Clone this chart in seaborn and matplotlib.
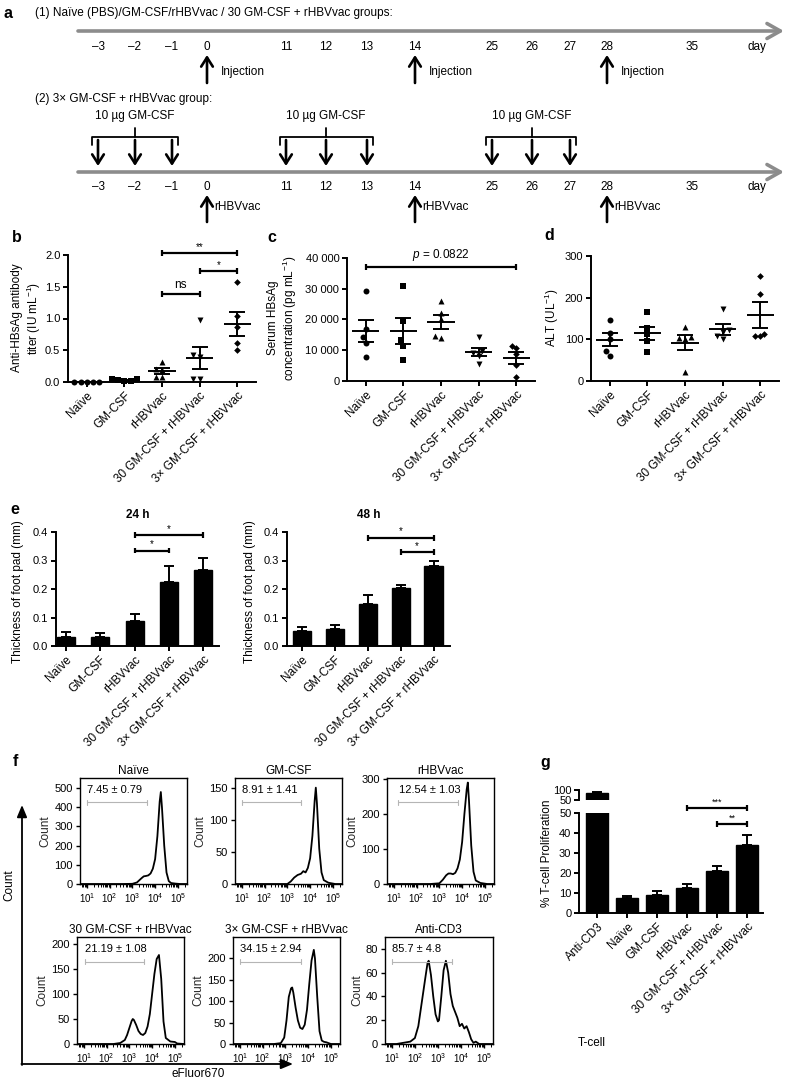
import numpy as np
import pandas as pd
import matplotlib
matplotlib.use('Agg')
import matplotlib.pyplot as plt
from matplotlib.transforms import blended_transform_factory
from matplotlib.ticker import LogLocator, NullFormatter
import seaborn as sns

# ======================= DATA =======================
groups = ['Naïve', 'GM-CSF', 'rHBVvac', '30 GM-CSF + rHBVvac', '3× GM-CSF + rHBVvac']

# (a) schedule
schedule_days = [-3, -2, -1, 0, 11, 12, 13, 14, 25, 26, 27, 28, 35]
injection_days = [0, 14, 28]
gmcsf_blocks = [[-3, -2, -1], [11, 12, 13], [25, 26, 27]]

# (b) anti-HBsAg antibody titer (IU/mL)
titer_naive = [0.0, 0.0, 0.0, 0.0, 0.0]
titer_gmcsf = [0.05, 0.04, 0.03, 0.01, 0.02]
titer_rhbv = [0.32, 0.20, 0.19, 0.08, 0.08]
titer_30gm = [0.97, 0.42, 0.40, 0.05, 0.05]
titer_3x = [1.57, 1.04, 0.87, 0.62, 0.50]

# (c) serum HBsAg (pg/mL)
hbsag_naive = [29300, 16800, 14300, 12500, 7900]
hbsag_gmcsf = [30800, 19500, 13200, 11400, 6700]
hbsag_rhbv = [26000, 22000, 20000, 14500, 14000]
hbsag_30gm = [14200, 9800, 9200, 8200, 5500]
hbsag_3x = [11300, 10800, 8700, 5200, 1300]

# (d) ALT (U/L)
alt_naive = [147, 115, 100, 72, 60]
alt_gmcsf = [165, 128, 112, 97, 70]
alt_rhbv = [130, 106, 104, 100, 22]
alt_30gm = [174, 122, 118, 108, 100]
alt_3x = [253, 209, 113, 107, 107]

# (e) foot pad thickness (mm)
pad24_mean = [0.030, 0.030, 0.088, 0.225, 0.265]
pad24_err = [0.018, 0.015, 0.025, 0.055, 0.045]
pad48_mean = [0.052, 0.058, 0.148, 0.203, 0.280]
pad48_err = [0.015, 0.015, 0.030, 0.012, 0.020]

# (f) eFluor670 histograms (log10 intensity, count)
f_titles = ['Naïve', 'GM-CSF', 'rHBVvac', '30 GM-CSF + rHBVvac', '3× GM-CSF + rHBVvac', 'Anti-CD3']
f_gate_text = ['7.45 ± 0.79', '8.91 ± 1.41', '12.54 ± 1.03', '21.19 ± 1.08', '34.15 ± 2.94', '85.7 ± 4.8']
f_gate_log = [(1.0, 3.65), (1.0, 3.6), (1.2, 3.8), (1.05, 3.65), (1.0, 3.7), (1.0, 3.6)]
f_yticks = [[0, 100, 200, 300, 400, 500], [0, 50, 100, 150], [0, 100, 200, 300],
            [0, 50, 100, 150, 200], [0, 50, 100, 150, 200], [0, 20, 40, 60, 80]]
f_ytop = [553, 165, 303, 214, 250, 90]

naive_logx = [0.7, 2.6, 3.0, 3.2, 3.4, 3.5, 3.6, 3.7, 3.8, 3.9, 4.0, 4.1, 4.2, 4.25, 4.3, 4.4, 4.5, 4.6, 4.7, 4.9, 5.1, 5.4]
naive_count = [0, 0, 1, 8, 30, 40, 42, 45, 55, 80, 130, 250, 430, 480, 400, 200, 60, 15, 5, 2, 0, 0]
gm_logx = [0.7, 2.6, 3.0, 3.15, 3.3, 3.45, 3.6, 3.7, 3.8, 3.9, 4.0, 4.1, 4.2, 4.25, 4.3, 4.4, 4.5, 4.6, 4.8, 5.1, 5.4]
gm_count = [0, 0, 0, 4, 10, 14, 16, 20, 18, 25, 40, 75, 130, 150, 125, 55, 18, 6, 2, 0, 0]
rh_logx = [0.7, 2.6, 3.0, 3.15, 3.3, 3.4, 3.5, 3.6, 3.7, 3.8, 3.9, 4.0, 4.1, 4.2, 4.25, 4.3, 4.4, 4.5, 4.6, 4.8, 5.1, 5.4]
rh_count = [0, 0, 2, 12, 25, 30, 30, 28, 32, 45, 70, 120, 200, 270, 290, 240, 110, 35, 10, 3, 0, 0]
gm30_logx = [0.7, 2.3, 2.6, 2.8, 2.9, 3.0, 3.1, 3.15, 3.2, 3.3, 3.4, 3.5, 3.6, 3.7, 3.8, 3.9, 4.0, 4.1, 4.2, 4.3, 4.4, 4.5, 4.6, 4.8, 5.0, 5.1, 5.4]
gm30_count = [0, 0, 2, 8, 18, 32, 46, 50, 48, 38, 26, 20, 18, 22, 35, 60, 100, 140, 170, 178, 130, 45, 12, 5, 4, 1, 0]
x3_logx = [0.7, 2.5, 2.8, 2.95, 3.05, 3.15, 3.25, 3.3, 3.35, 3.45, 3.55, 3.65, 3.75, 3.85, 3.95, 4.05, 4.15, 4.25, 4.3, 4.4, 4.5, 4.6, 4.7, 4.8, 5.0, 5.4]
x3_count = [0, 0, 2, 15, 55, 110, 130, 132, 120, 85, 55, 38, 35, 45, 80, 140, 195, 220, 200, 110, 30, 8, 5, 4, 0, 0]
cd3_logx = [0.7, 1.2, 1.5, 1.8, 2.0, 2.15, 2.3, 2.45, 2.55, 2.6, 2.7, 2.8, 2.9, 3.0, 3.05, 3.15, 3.25, 3.35, 3.45,
            3.55, 3.65, 3.75, 3.85, 3.95, 4.05, 4.15, 4.25, 4.35, 4.45, 4.55, 4.65, 4.8, 5.4]
cd3_count = [0, 0, 1, 2, 5, 15, 35, 55, 68, 70, 58, 40, 25, 19, 20, 40, 62, 70, 60,
             42, 32, 27, 22, 15, 17, 13, 15, 10, 4, 1, 2, 0, 0]

# (g) T-cell proliferation (%)
prolif_groups = ['Anti-CD3'] + groups
prolif_mean = [85.7, 7.45, 8.91, 12.54, 21.19, 34.15]
prolif_err = [4.8, 1.2, 2.3, 2.0, 2.5, 5.0]

# ======================= STYLE =======================
sns.set_theme(style='ticks')
plt.rcParams['font.family'] = ['Liberation Sans', 'DejaVu Sans']
plt.rcParams.update({
    'mathtext.fontset': 'custom',
    'mathtext.rm': 'Liberation Sans',
    'mathtext.it': 'Liberation Sans:italic',
    'mathtext.bf': 'Liberation Sans:bold',
    'mathtext.default': 'regular',
    'text.color': 'black',
    'axes.edgecolor': 'black',
    'xtick.color': 'black',
    'ytick.color': 'black',
    'axes.facecolor': 'none',
})

W, H = 785, 1083
fig = plt.figure(figsize=(W / 100, H / 100), dpi=100)
fig.patch.set_facecolor('white')


def px_axes(x0, y0, x1, y1):
    return fig.add_axes([x0 / W, 1 - y1 / H, (x1 - x0) / W, (y1 - y0) / H])


def gp_style(ax, lw=1.4):
    for s in ['top', 'right']:
        ax.spines[s].set_visible(False)
    for s in ['left', 'bottom']:
        ax.spines[s].set_linewidth(lw)
        ax.spines[s].set_color('black')
    ax.tick_params(direction='out', length=3.5, width=lw, labelsize=8, pad=2)


def cat_labels(ax, labels, fs=8.5):
    ax.set_xticks(range(len(labels)))
    ax.set_xticklabels(labels, rotation=45, ha='right', rotation_mode='anchor', fontsize=fs)
    ax.set_xlabel('')
    ax.set_ylabel('')


def bracket(ax, x1, x2, y, label, h, fs=8, lw=1.6, toff=None):
    ax.plot([x1, x2], [y, y], color='black', lw=lw, clip_on=False, solid_capstyle='butt')
    for x in (x1, x2):
        ax.plot([x, x], [y - h, y + h], color='black', lw=lw, clip_on=False, solid_capstyle='butt')
    ax.text((x1 + x2) / 2, y + (h * 0.6 if toff is None else toff), label, ha='center', va='bottom',
            fontsize=fs, clip_on=False)


def dot_panel(ax, value_lists, ylim, yticks, yticklabels):
    markers = ['o', 's', '^', 'v', 'D']
    df = pd.DataFrame({'group': np.repeat(groups, [len(v) for v in value_lists]),
                       'value': np.concatenate(value_lists)})
    for g, m in zip(groups, markers):
        sub = df[df['group'] == g]
        sns.swarmplot(data=sub, x='group', y='value', order=groups, marker=m, color='black',
                      size=4.3 if m != 'D' else 3.4, ax=ax, zorder=3, clip_on=False)
    means = df.groupby('group', sort=False)['value'].mean().reindex(groups).values
    sems = df.groupby('group', sort=False)['value'].sem().reindex(groups).values
    xs = np.arange(len(groups))
    ax.hlines(means, xs - 0.36, xs + 0.36, color='black', lw=1.4, zorder=4)
    ax.errorbar(xs, means, yerr=sems, fmt='none', ecolor='black', elinewidth=1.4, capsize=6,
                capthick=1.4, zorder=4)
    ax.set_xlim(-0.5, 4.5)
    ax.set_ylim(*ylim)
    ax.set_yticks(yticks)
    ax.set_yticklabels(yticklabels)
    gp_style(ax)
    cat_labels(ax, groups)


# ======================= OVERLAY (schematic + labels) =======================
ov = fig.add_axes([0, 0, 1, 1], zorder=10)
ov.set_xlim(0, W)
ov.set_ylim(H, 0)
ov.axis('off')

day_x = dict(zip(schedule_days, [98, 135, 172, 207, 286, 326, 367, 415, 492, 532, 570, 607, 692]))


def day_label(d):
    return f'–{abs(d)}' if d < 0 else str(d)


gray_arrow = dict(arrowstyle='->,head_length=0.8,head_width=0.45', lw=2.6, color='#8c8c8c',
                  shrinkA=0, shrinkB=0)
black_arrow = dict(arrowstyle='->,head_length=0.55,head_width=0.35', lw=1.9, color='black',
                   shrinkA=0, shrinkB=0)
TFS = 8.5

# row 1
ov.text(35, 13, '(1) Naïve (PBS)/GM-CSF/rHBVvac / 30 GM-CSF + rHBVvac groups:', fontsize=TFS,
        va='center', ha='left')
ov.annotate('', xy=(784, 31), xytext=(78, 31), arrowprops=gray_arrow)
for d in schedule_days:
    ov.text(day_x[d], 47, day_label(d), ha='center', va='center', fontsize=TFS)
ov.text(757, 47, 'day', ha='center', va='center', fontsize=TFS)
for d in injection_days:
    ov.annotate('', xy=(day_x[d], 55), xytext=(day_x[d], 83), arrowprops=black_arrow)
    ov.text(day_x[d] + 14, 72, 'Injection', ha='left', va='center', fontsize=TFS)

# row 2
ov.text(35, 99, '(2) 3× GM-CSF + rHBVvac group:', fontsize=TFS, va='center', ha='left')
for block in gmcsf_blocks:
    xs = [day_x[d] for d in block]
    xl, xr = xs[0] - 6, xs[-1] + 6
    xc = day_x[block[1]]
    ov.plot([xl, xl, xr, xr], [145, 137, 137, 145], color='black', lw=1.3)
    ov.plot([xc, xc], [137, 128], color='black', lw=1.3)
    ov.text(xc, 116, '10 µg GM-CSF', ha='center', va='center', fontsize=TFS)
    for x in xs:
        ov.annotate('', xy=(x, 166), xytext=(x, 140), arrowprops=black_arrow)
ov.annotate('', xy=(784, 172), xytext=(78, 172), arrowprops=gray_arrow)
for d in schedule_days:
    ov.text(day_x[d], 187, day_label(d), ha='center', va='center', fontsize=TFS)
ov.text(757, 187, 'day', ha='center', va='center', fontsize=TFS)
for d in injection_days:
    ov.annotate('', xy=(day_x[d], 195), xytext=(day_x[d], 222), arrowprops=black_arrow)
    ov.text(day_x[d] + 7, 207, 'rHBVvac', ha='left', va='center', fontsize=TFS)

# panel letters
for letter, (x, y) in {'a': (8, 14), 'b': (17, 237), 'c': (272, 238), 'd': (549, 236),
                       'e': (15, 510), 'f': (15, 762), 'g': (545, 762)}.items():
    ov.text(x, y, letter, fontsize=11.5, fontweight='bold', ha='center', va='center')

# y labels
ylab_fs = 8.5
ov.text(27, 318, 'Anti-HBsAg antibody\ntiter (IU mL$^{-1}$)', rotation=90, ha='center', va='center',
        fontsize=ylab_fs, multialignment='center')
ov.text(283, 318, 'Serum HBsAg\nconcentration (pg mL$^{-1}$)', rotation=90, ha='center', va='center',
        fontsize=ylab_fs, multialignment='center')
ov.text(552, 318, 'ALT (UL$^{-1}$)', rotation=90, ha='center', va='center', fontsize=ylab_fs)
ov.text(18, 592, 'Thickness of foot pad (mm)', rotation=90, ha='center', va='center', fontsize=ylab_fs)
ov.text(250, 592, 'Thickness of foot pad (mm)', rotation=90, ha='center', va='center', fontsize=ylab_fs)
ov.text(138, 515, '24 h', ha='center', va='center', fontsize=8.5, fontweight='bold')
ov.text(369, 515, '48 h', ha='center', va='center', fontsize=8.5, fontweight='bold')
ov.text(547, 853, '% T-cell Proliferation', rotation=90, ha='center', va='center', fontsize=ylab_fs)
ov.text(578, 1043, 'T-cell', ha='left', va='center', fontsize=8.5)

# f big axes arrows
ov.annotate('', xy=(22, 805), xytext=(22, 1065), arrowprops=dict(arrowstyle='-|>,head_length=0.6,head_width=0.25',
            lw=1.3, color='black', shrinkA=0, shrinkB=0))
ov.annotate('', xy=(293, 1064), xytext=(21.4, 1064), arrowprops=dict(arrowstyle='-|>,head_length=0.6,head_width=0.25',
            lw=1.3, color='black', shrinkA=0, shrinkB=0))
ov.text(9, 885, 'Count', rotation=90, ha='center', va='center', fontsize=8.5)
ov.text(198, 1074, 'eFluor670', ha='center', va='center', fontsize=8.5)

# ======================= (b) =======================
ax_b = px_axes(68, 255, 256, 382)
dot_panel(ax_b, [titer_naive, titer_gmcsf, titer_rhbv, titer_30gm, titer_3x],
          (0, 2.0), [0, 0.5, 1.0, 1.5, 2.0], ['0.0', '0.5', '1.0', '1.5', '2.0'])
bracket(ax_b, 2, 3, 1.39, 'ns', 0.05, fs=8.5, toff=0.04)
bracket(ax_b, 3, 4, 1.75, '*', 0.05, fs=7, toff=0.02)
bracket(ax_b, 2, 4, 2.03, '**', 0.05, fs=7, toff=0.02)

# ======================= (c) =======================
ax_c = px_axes(347, 258, 535, 381)
dot_panel(ax_c, [hbsag_naive, hbsag_gmcsf, hbsag_rhbv, hbsag_30gm, hbsag_3x],
          (0, 40000), [0, 10000, 20000, 30000, 40000], ['0', '10 000', '20 000', '30 000', '40 000'])
bracket(ax_c, 0, 4, 37100, '$\\it{p}$ = 0.0822', 1000, fs=8.5, toff=1300)

# ======================= (d) =======================
ax_d = px_axes(591, 256, 779, 381)
dot_panel(ax_d, [alt_naive, alt_gmcsf, alt_rhbv, alt_30gm, alt_3x],
          (0, 300), [0, 100, 200, 300], ['0', '100', '200', '300'])

# ======================= (e) =======================
def bar_panel(ax, labels, means, errs, width, xlim, ylim, yticks, yticklabels):
    sns.barplot(x=labels, y=means, color='black', saturation=1, width=width, errorbar=None,
                edgecolor='black', ax=ax)
    ax.errorbar(np.arange(len(labels)), means, yerr=[np.zeros(len(means)), errs], fmt='none',
                ecolor='black', elinewidth=1.4, capsize=3.5, capthick=1.4)
    ax.set_xlim(*xlim)
    ax.set_ylim(*ylim)
    ax.set_yticks(yticks)
    ax.set_yticklabels(yticklabels)
    gp_style(ax)
    cat_labels(ax, labels)


ax_e1 = px_axes(56, 532, 219, 646)
bar_panel(ax_e1, groups, pad24_mean, pad24_err, 0.52, (-0.29, 4.46), (0, 0.4),
          [0, 0.1, 0.2, 0.3, 0.4], ['0.0', '0.1', '0.2', '0.3', '0.4'])
bracket(ax_e1, 2, 4, 0.39, '*', 0.01, fs=7, toff=0.004)
bracket(ax_e1, 2, 3, 0.335, '*', 0.01, fs=7, toff=0.004)

ax_e2 = px_axes(287, 532, 450, 646)
bar_panel(ax_e2, groups, pad48_mean, pad48_err, 0.55, (-0.45, 4.5), (0, 0.4),
          [0, 0.1, 0.2, 0.3, 0.4], ['0.0', '0.1', '0.2', '0.3', '0.4'])
bracket(ax_e2, 2, 4, 0.38, '*', 0.01, fs=7, toff=0.004)
bracket(ax_e2, 3, 4, 0.33, '*', 0.01, fs=7, toff=0.004)

# ======================= (f) =======================
f_boxes = [(80, 778, 187, 884), (235, 778, 342, 884), (387, 778, 494, 884),
           (77, 937, 184, 1044), (233, 937, 340, 1044), (385, 937, 493, 1044)]
f_data = [(naive_logx, naive_count), (gm_logx, gm_count), (rh_logx, rh_count),
          (gm30_logx, gm30_count), (x3_logx, x3_count), (cd3_logx, cd3_count)]
for i, box in enumerate(f_boxes):
    ax = px_axes(*box)
    lx, cnt = f_data[i]
    sns.lineplot(x=np.power(10.0, lx), y=cnt, color='black', lw=1.3, ax=ax, sort=True)
    ax.set_xscale('log')
    ax.set_xlim(10 ** 0.7, 10 ** 5.4)
    ax.set_ylim(0, f_ytop[i])
    ax.set_yticks(f_yticks[i])
    ax.set_xticks([1e1, 1e2, 1e3, 1e4, 1e5])
    ax.xaxis.set_minor_locator(LogLocator(base=10, subs=np.arange(2, 10), numticks=20))
    ax.xaxis.set_minor_formatter(NullFormatter())
    for s in ax.spines.values():
        s.set_linewidth(1.0)
        s.set_color('black')
    ax.tick_params(axis='both', which='major', direction='out', length=3, width=1.0, pad=2)
    ax.tick_params(axis='x', which='major', labelsize=7)
    ax.tick_params(axis='y', which='major', labelsize=8)
    ax.tick_params(axis='x', which='minor', direction='out', length=1.8, width=0.7)
    ax.set_ylabel('Count', fontsize=8.5, labelpad=2)
    ax.set_xlabel('')
    ax.set_title(f_titles[i], fontsize=8.5, pad=3)
    tr = blended_transform_factory(ax.transData, ax.transAxes)
    g0, g1 = f_gate_log[i]
    ax.plot([10 ** g0, 10 ** g1], [0.77, 0.77], transform=tr, color='#b5b5b5', lw=0.8)
    for gx in (g0, g1):
        ax.plot([10 ** gx, 10 ** gx], [0.75, 0.79], transform=tr, color='#b5b5b5', lw=0.8)
    ax.text(10 ** (g0 + 0.02), 0.885, f_gate_text[i], transform=tr, fontsize=8, ha='left', va='center')

# ======================= (g) =======================
ax_gl = px_axes(579, 813, 763, 913)
bar_panel(ax_gl, prolif_groups, prolif_mean, prolif_err, 0.72, (-0.6, 5.53), (0, 50),
          [0, 10, 20, 30, 40, 50], ['0', '10', '20', '30', '40', '50'])
bracket(ax_gl, 3, 5, 52.5, '***', 1.3, fs=6.5, toff=0.6)
bracket(ax_gl, 4, 5, 44.5, '**', 1.3, fs=6.5, toff=0.6)

ax_gt = px_axes(579, 790, 763, 800)
sns.barplot(x=prolif_groups, y=prolif_mean, color='black', saturation=1, width=0.72, errorbar=None,
            edgecolor='black', ax=ax_gt)
ax_gt.errorbar(np.arange(len(prolif_groups)), prolif_mean,
               yerr=[np.zeros(len(prolif_mean)), prolif_err], fmt='none', ecolor='black',
               elinewidth=1.4, capsize=3.5, capthick=1.4)
ax_gt.set_xlim(-0.6, 5.53)
ax_gt.set_ylim(50, 100)
ax_gt.set_yticks([50, 100])
ax_gt.set_yticklabels(['50', '100'])
gp_style(ax_gt)
ax_gt.spines['bottom'].set_visible(False)
ax_gt.set_xticks([])
ax_gt.set_xlabel('')
ax_gt.set_ylabel('')

fig.savefig('out.png', dpi=100, facecolor='white')
